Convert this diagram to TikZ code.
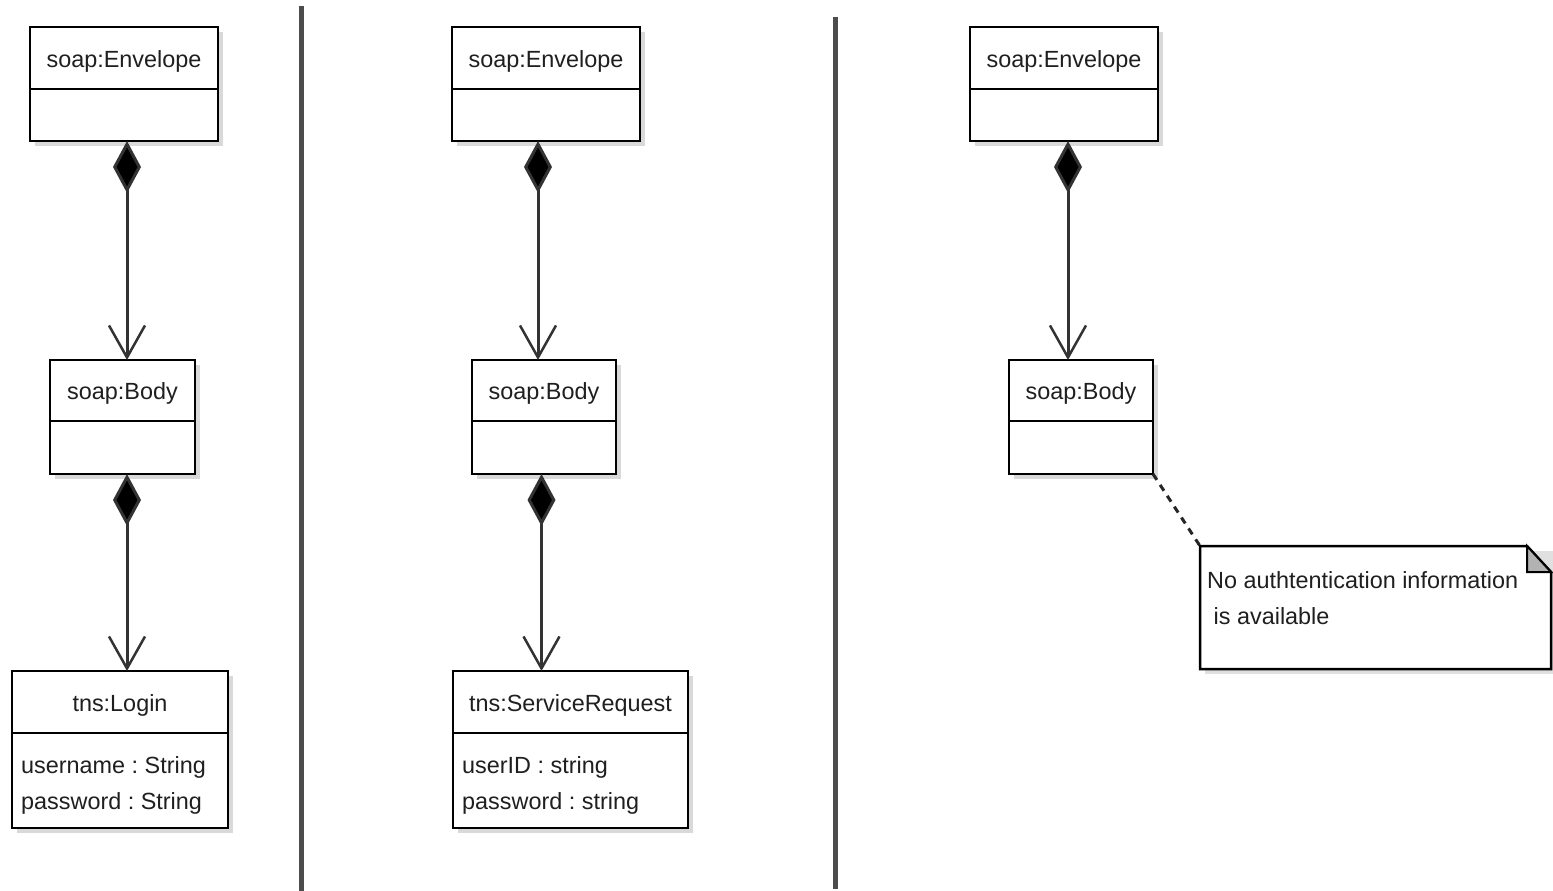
\documentclass[tikz,border=0pt]{standalone}
\usepackage{fontspec}
\setmainfont{Liberation Sans}
\usetikzlibrary{arrows.meta,shadows,calc}
\frenchspacing
\tikzset{
  umlbox/.style={draw=black, line width=2.5pt, fill=white, inner sep=0pt, outer sep=0pt,
    drop shadow={shadow xshift=5pt, shadow yshift=-5pt, opacity=0.15, fill=black}},
  boxline/.style={draw=black, line width=2.5pt},
  title/.style={inner sep=0pt, text=black!88},
  attr/.style={inner sep=0pt, anchor=west, align=left, text=black!88},
  comp/.style={draw=black!80, line width=3pt,
    {Diamond[length=52pt,width=28pt,fill=black]}-{Straight Barb[length=32pt,width=36pt,line width=2.5pt]}},
  sepline/.style={draw=black!70, line width=5pt},
  noteline/.style={draw=black!85, line width=3pt, dash pattern=on 7pt off 6pt},
}
\newcommand\umlbox[7]{%
  \node[umlbox, minimum width={#4-#2}, minimum height={#5-#3}] (#1) at ({(#2+#4)/2},{(#3+#5)/2}) {};
  \draw[boxline] (#1.west |- 0,#6) -- (#1.east |- 0,#6);
  \node[title] (#1t) at ({(#2+#4)/2},{(#3+#6)/2+3}) {#7};
}
\begin{document}
\begin{tikzpicture}[x=1pt,y=-1pt,font=\fontsize{23.4}{36}\selectfont]
\useasboundingbox (0,0) rectangle (1553,891);
% separators
\coordinate (s1a) at (301,6); \coordinate (s1b) at (301,891);
\coordinate (s2a) at (835,17); \coordinate (s2b) at (835,889);
\draw[sepline] (s1a) -- (s1b);
\draw[sepline] (s2a) -- (s2b);
% column 1
\umlbox{env1}{30}{27}{218}{141}{89}{soap:Envelope}
\umlbox{body1}{50}{360}{195}{474}{421}{soap:Body}
\umlbox{login}{12}{671}{228}{828}{733}{tns:Login}
\node[attr] (login1) at (21,785) {username : String\\password : String};
\draw[comp] (env1.south -| 127,0) -- (body1.north -| 127,0);
\draw[comp] (body1.south -| 127,0) -- (login.north -| 127,0);
% column 2
\umlbox{env2}{452}{27}{640}{141}{89}{soap:Envelope}
\umlbox{body2}{472}{360}{616}{474}{421}{soap:Body}
\umlbox{sreq}{453}{671}{688}{828}{733}{tns:ServiceRequest}
\node[attr] (sreq1) at (462,785) {userID : string\\password : string};
\draw[comp] (env2.south -| 538,0) -- (body2.north -| 538,0);
\draw[comp] (body2.south -| 541.5,0) -- (sreq.north -| 541.5,0);
% column 3
\umlbox{env3}{970}{27}{1158}{141}{89}{soap:Envelope}
\umlbox{body3}{1009}{360}{1153}{474}{421}{soap:Body}
\draw[comp] (env3.south -| 1068,0) -- (body3.north -| 1068,0);
% note
\node[inner sep=0pt, outer sep=0pt, minimum width=351pt, minimum height=123pt, anchor=north west] (note) at (1200,546) {};
\fill[black!12] ([xshift=5pt,yshift=-5pt]note.north west) rectangle ([xshift=5pt,yshift=-5pt]note.south east);
\draw[boxline, fill=white] (note.north west) -- ([xshift=-24pt]note.north east) -- ([yshift=-26pt]note.north east) -- (note.south east) -- (note.south west) -- cycle;
\draw[boxline, fill=black!30, line width=2pt] ([xshift=-24pt]note.north east) -- ([xshift=-24pt,yshift=-26pt]note.north east) -- ([yshift=-26pt]note.north east) -- cycle;
\node[attr, anchor=north west] (notetext) at (1207,571) {No authtentication information\\\hspace{6.5pt}is available};
\draw[noteline] (body3.south east) -- (note.north west);
\end{tikzpicture}
\end{document}
